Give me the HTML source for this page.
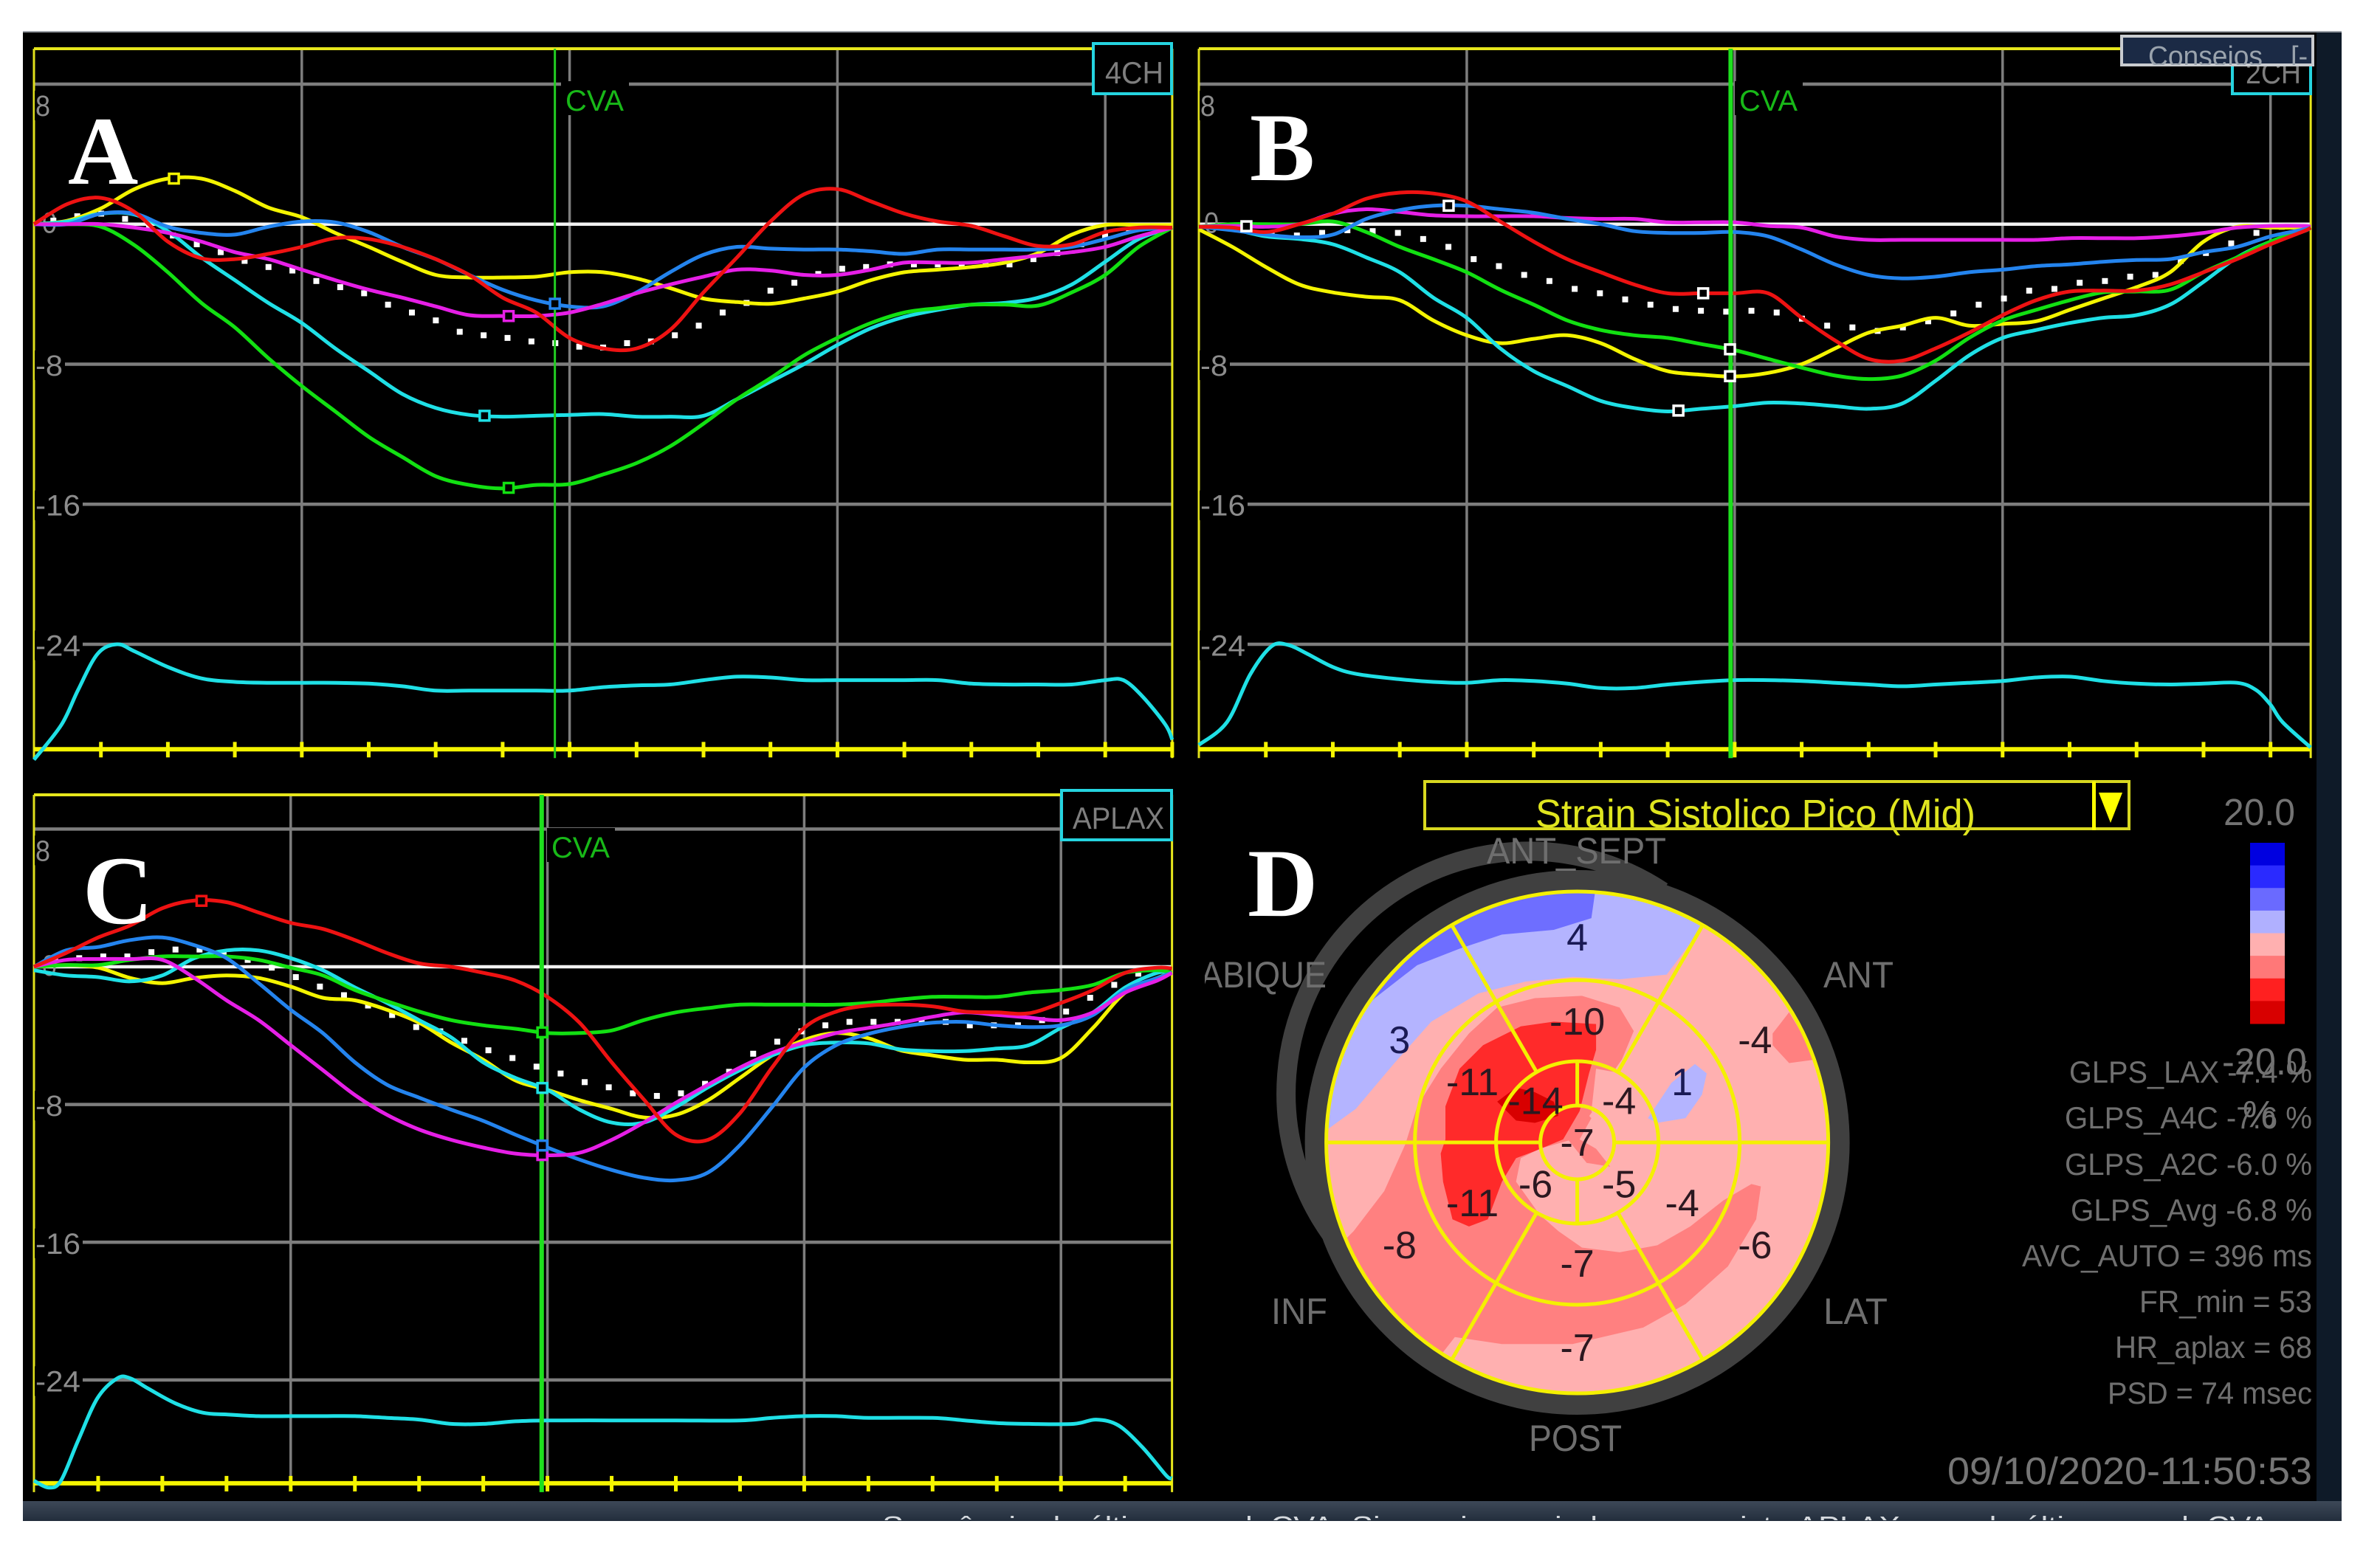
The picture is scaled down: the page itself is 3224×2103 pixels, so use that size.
<!DOCTYPE html>
<html lang="pt">
<head>
<meta charset="utf-8">
<title>Strain longitudinal</title>
<style>
html,body{margin:0;padding:0;background:#fff;width:3224px;height:2103px;overflow:hidden}
svg{display:block;font-family:"Liberation Sans",sans-serif}
</style>
</head>
<body>
<svg id="root" xmlns="http://www.w3.org/2000/svg" width="3224" height="2103" viewBox="0 0 3224 2103">
  <defs>
    <linearGradient id="footGrad" x1="0" y1="0" x2="0" y2="1"><stop offset="0" stop-color="#3d4958"/><stop offset="1" stop-color="#232e3c"/></linearGradient>
    <clipPath id="footClip"><rect x="31" y="2034" width="3141" height="26"/></clipPath>
    <clipPath id="consClip"><rect x="2875" y="50" width="257" height="38"/></clipPath>
    <clipPath id="abClip"><rect x="1632" y="1280" width="200" height="80"/></clipPath>
    <clipPath id="eyeClip"><circle cx="2136.6" cy="1548" r="340"/></clipPath>
  </defs>

  <rect x="0" y="0" width="3224" height="2103" fill="#ffffff"/>
  <rect x="31" y="42" width="3141" height="3" fill="#9a9fa6"/>
  <rect x="3138" y="44" width="34" height="1990" fill="#0e1a28"/>
  <rect x="31" y="44" width="3107" height="1990" fill="#000000"/>
  <rect x="31" y="2034" width="3141" height="27" fill="url(#footGrad)"/>
  <g clip-path="url(#footClip)">
    <text x="1195" y="2080" font-size="36" fill="#d5d9de" textLength="1880" lengthAdjust="spacingAndGlyphs">Sequência do último quad. CVA. Sincronize a ajuda para a vista APLAX usando último quad. CVA</text>
  </g>

  <g id="charts"></g>

  <g>
    <rect x="2874" y="49" width="259" height="39" fill="#1b2a45" stroke="#c9ccd0" stroke-width="4"/>
    <g clip-path="url(#consClip)">
      <text x="2910" y="89" font-size="38" fill="#9aa3ad" textLength="155" lengthAdjust="spacingAndGlyphs">Conseios</text>
      <text x="3103" y="89" font-size="38" fill="#9aa3ad">[-</text>
    </g>
  </g>

  <!-- D: bullseye -->
  <g>
    <path d="M2252 1208 A328.5 328.5 0 0 0 1802 1671" fill="none" stroke="#404040" stroke-width="26"/>
    <circle cx="2136.6" cy="1548" r="354" fill="none" stroke="#404040" stroke-width="30"/>
    <g clip-path="url(#eyeClip)">
      <g transform="translate(1620 1040) scale(0.63776)">
        <circle cx="810" cy="797" r="540" fill="#ffb0b0"/>
        <path fill="#b4b4ff" d="M250 790 L278 770 L340 725 L420 630 L500 540 L600 480 L700 455 L800 445 L900 450 L1000 440 L1030 400 L1090 320 L810 240 L450 300 L250 600 Z"/>
        <path fill="#6e6eff" d="M350 520 L380 490 L470 420 L560 385 L650 355 L760 345 L840 320 L850 250 L500 280 Z"/>
        <path fill="#ff8080" d="M300 1020 L335 985 L400 900 L445 800 L470 720 L520 640 L580 565 L640 510 L720 490 L820 485 L900 510 L930 560 L905 620 L870 670 L850 720 L800 790 L730 810 L690 830 L680 880 L730 950 L770 985 L820 1020 L900 1030 L980 1015 L1050 975 L1120 920 L1180 885 L1200 890 L1190 960 L1130 1060 L1040 1140 L950 1190 L800 1225 L650 1225 L550 1210 L480 1300 L300 1150 Z"/>
        <path fill="#ff2a2a" d="M530 790 L530 720 L560 640 L610 590 L690 550 L760 540 L850 545 L850 600 L835 650 L815 730 L780 790 L720 815 L680 830 L650 880 L620 960 L580 975 L545 960 L525 880 L520 820 Z"/>
        <path fill="#d80000" d="M640 710 L680 680 L720 690 L760 710 L770 740 L720 755 L680 750 Z"/>
        <path fill="#ffb0b0" d="M850 640 L905 650 L960 700 L975 780 L880 770 L840 730 Z"/>
        <path fill="#ff8080" d="M825 730 L790 790 L830 840 L880 848 L850 810 L815 790 L840 745 Z"/>
        <path fill="#ff8080" d="M1225 565 L1260 520 L1320 620 L1260 628 L1225 590 Z"/>
        <path fill="#b4b4ff" d="M960 745 L1010 670 L1060 630 L1085 650 L1075 695 L1040 745 L980 755 Z"/>
      </g>
    </g>
    <g id="eyeGrid"></g>
    <g id="eyeValues"></g>
  </g>

  <text x="2014" y="1170" font-size="50" fill="#6e6e6e" textLength="243" lengthAdjust="spacingAndGlyphs">ANT_SEPT</text>
  <g clip-path="url(#abClip)"><text x="1626" y="1338" font-size="50" fill="#6e6e6e" textLength="171" lengthAdjust="spacingAndGlyphs">ABIQUE</text></g>
  <text x="2470" y="1338" font-size="50" fill="#6e6e6e" textLength="95" lengthAdjust="spacingAndGlyphs">ANT</text>
  <text x="1722" y="1794" font-size="50" fill="#6e6e6e" textLength="76" lengthAdjust="spacingAndGlyphs">INF</text>
  <text x="2470" y="1794" font-size="50" fill="#6e6e6e" textLength="87" lengthAdjust="spacingAndGlyphs">LAT</text>
  <text x="2071" y="1966" font-size="50" fill="#6e6e6e" textLength="126" lengthAdjust="spacingAndGlyphs">POST</text>

  <g>
    <text x="2080" y="1121" font-size="54" fill="#dfe51f" textLength="596" lengthAdjust="spacingAndGlyphs">Strain Sistolico Pico (Mid)</text>
    <rect x="1930" y="1059" width="954" height="64" fill="none" stroke="#d8d820" stroke-width="4"/>
    <rect x="2834" y="1059" width="5" height="66" fill="#ffff00"/>
    <polygon points="2843,1074 2875,1074 2859,1115" fill="#ffff00"/>
  </g>

  <text x="3012" y="1118" font-size="51" fill="#737373" textLength="97" lengthAdjust="spacingAndGlyphs">20.0</text>
  <g id="colorbar"></g>
  <text x="3010" y="1456" font-size="51" fill="#737373" textLength="115" lengthAdjust="spacingAndGlyphs">-20.0</text>
  <text x="3038" y="1527" font-size="51" fill="#737373">%</text>

  <g font-size="42" fill="#6f6f6f">
    <text x="2803" y="1467" textLength="329" lengthAdjust="spacingAndGlyphs">GLPS_LAX  -7.4 %</text>
    <text x="2797" y="1529" textLength="335" lengthAdjust="spacingAndGlyphs">GLPS_A4C  -7.6 %</text>
    <text x="2797" y="1592" textLength="335" lengthAdjust="spacingAndGlyphs">GLPS_A2C  -6.0 %</text>
    <text x="2805" y="1654" textLength="327" lengthAdjust="spacingAndGlyphs">GLPS_Avg  -6.8 %</text>
    <text x="2739" y="1716" textLength="393" lengthAdjust="spacingAndGlyphs">AVC_AUTO = 396 ms</text>
    <text x="2898" y="1778" textLength="234" lengthAdjust="spacingAndGlyphs">FR_min = 53</text>
    <text x="2865" y="1840" textLength="267" lengthAdjust="spacingAndGlyphs">HR_aplax = 68</text>
    <text x="2855" y="1902" textLength="277" lengthAdjust="spacingAndGlyphs">PSD = 74 msec</text>
  </g>
  <text x="2638" y="2011" font-size="52" fill="#757575" textLength="494" lengthAdjust="spacingAndGlyphs">09/10/2020-11:50:53</text>

  <text x="92" y="249" font-family="'Liberation Serif',serif" font-weight="bold" font-size="132" fill="#ffffff">A</text>
  <text x="1693" y="244" font-family="'Liberation Serif',serif" font-weight="bold" font-size="132" fill="#ffffff">B</text>
  <text x="112" y="1251" font-family="'Liberation Serif',serif" font-weight="bold" font-size="132" fill="#ffffff">C</text>
  <text x="1690" y="1241" font-family="'Liberation Serif',serif" font-weight="bold" font-size="132" fill="#ffffff">D</text>
</svg>

<script>
/* ---------- shared axis values ---------- */
const yGridValues = [8, -8, -16, -24];
const xGridTicks = [4, 8, 12, 16];

/* ---------- panel A: 4CH ---------- */
const aTimes = [0,.5,1,1.5,2,2.5,3,3.5,4,4.5,5,5.5,6,6.5,7,7.5,8,8.5,9,9.5,10,10.5,11,11.5,12,12.5,13,13.5,14,14.5,15,15.5,16,16.5,17];
const aYellow = [0,.2,.9,2,2.6,2.6,1.9,.95,.4,-.5,-1.3,-2.15,-2.9,-3.05,-3.05,-3,-2.75,-2.75,-3.1,-3.65,-4.25,-4.45,-4.55,-4.25,-3.85,-3.2,-2.75,-2.6,-2.45,-2.2,-1.65,-.6,-.05,-.05,-.05];
const aCyan = [0,.15,.6,.55,-.4,-1.9,-3.2,-4.5,-5.65,-7.1,-8.4,-9.7,-10.5,-10.9,-11,-10.95,-10.9,-10.85,-11,-11,-10.95,-10,-9,-8,-6.9,-5.95,-5.3,-4.9,-4.6,-4.5,-4.2,-3.45,-2.15,-.85,-.2];
const aGreen = [0,0,-.15,-1.2,-2.75,-4.5,-5.9,-7.65,-9.25,-10.7,-12.15,-13.3,-14.4,-14.9,-15.1,-14.9,-14.85,-14.3,-13.65,-12.7,-11.4,-10,-8.8,-7.5,-6.5,-5.65,-5.05,-4.8,-4.6,-4.6,-4.65,-3.9,-2.9,-1.3,-.2];
const aBlue = [0,0,.6,.6,-.15,-.5,-.6,-.15,.15,.1,-.45,-1.3,-2,-2.9,-3.75,-4.35,-4.7,-4.7,-3.9,-2.75,-1.75,-1.3,-1.4,-1.45,-1.45,-1.55,-1.7,-1.45,-1.45,-1.45,-1.45,-1.3,-.85,-.35,-.2];
const aMagenta = [0,0,0,-.2,-.5,-1,-1.6,-2,-2.6,-3.2,-3.75,-4.2,-4.7,-5.2,-5.25,-5.25,-5.05,-4.55,-3.95,-3.45,-3,-2.6,-2.65,-2.9,-2.9,-2.6,-2.2,-2.2,-2.2,-2,-1.8,-1.6,-1.3,-.7,-.2];
const aRed = [0,1.15,1.5,.7,-1,-1.95,-2,-1.7,-1.3,-.8,-.85,-1.3,-2,-2.9,-4.2,-5.05,-6.5,-7.1,-7.1,-6.05,-3.9,-1.9,.15,1.7,2,1.3,.6,.15,-.1,-.7,-1.25,-1.15,-.45,-.2,-.2];
const aDots = [.2,.45,.6,.3,-.1,-.65,-1.15,-1.6,-2.1,-2.45,-2.65,-3.25,-3.6,-3.95,-4.6,-5.05,-5.5,-6.15,-6.35,-6.5,-6.7,-6.8,-7,-7.05,-6.8,-6.7,-6.35,-5.8,-5.05,-4.5,-3.8,-3.35,-2.85,-2.55,-2.45,-2.3,-2.3,-2.3,-2.3,-2.3,-2.3,-2,-1.65,-1.15,-.7,-.35];
const aTraceTimes = [0,.41,.66,.95,1.24,1.5,2,2.5,3,3.5,4,4.5,5,5.5,6,6.5,7,7.5,8,8.5,9,9.5,10,10.5,11,11.5,12,12.5,13,13.5,14,14.5,15,15.5,16,16.27,16.56,16.9,17];
const aTrace = [-30.6,-28.6,-26.6,-24.55,-24,-24.4,-25.3,-25.95,-26.15,-26.2,-26.2,-26.2,-26.25,-26.4,-26.65,-26.65,-26.65,-26.65,-26.65,-26.45,-26.35,-26.3,-26.05,-25.85,-25.9,-26.05,-26.05,-26.05,-26.05,-26.05,-26.25,-26.3,-26.3,-26.3,-26.05,-26.05,-27,-28.6,-29.45];
const aMarkerTimes = {yellow:2.09, cyan:6.73, green:7.09, magenta:7.09, blue:7.78};

/* ---------- panel B: 2CH ---------- */
const bTimes = [0,.5,1,1.5,2,2.5,3,3.5,4,4.5,5,5.5,6,6.5,7,7.5,8,8.5,9,9.5,10,10.5,11,11.5,12,12.5,13,13.5,14,14.5,15,15.5,16,16.5,16.6];
const bYellow = [-.3,-1.3,-2.45,-3.45,-3.9,-4.15,-4.35,-5.5,-6.35,-6.8,-6.55,-6.35,-6.8,-7.7,-8.4,-8.6,-8.7,-8.5,-8,-7.1,-6.2,-5.8,-5.35,-5.8,-5.7,-5.55,-4.9,-4.25,-3.6,-2.75,-1,-.15,-.2,-.2,-.2];
const bCyan = [-.15,-.3,-.7,-.85,-1.15,-1.9,-2.75,-4.2,-5.35,-7.1,-8.4,-9.25,-10.1,-10.5,-10.7,-10.55,-10.4,-10.2,-10.25,-10.4,-10.55,-10.25,-8.95,-7.5,-6.5,-6.05,-5.65,-5.35,-5.2,-4.6,-3.3,-1.9,-1,-.4,-.2];
const bGreen = [-.15,0,0,0,.15,-.45,-1.3,-2,-2.75,-3.75,-4.6,-5.5,-6.05,-6.35,-6.5,-6.85,-7.2,-7.7,-8.2,-8.65,-8.85,-8.65,-7.8,-6.5,-5.5,-4.9,-4.35,-3.9,-3.85,-3.75,-2.75,-1.9,-1,-.3,-.2];
const bMagenta = [-.15,-.1,-.15,0,.6,.85,.7,.5,.45,.45,.45,.35,.3,.3,.1,.1,.1,-.1,-.2,-.7,-.9,-.9,-.9,-.9,-.9,-.9,-.8,-.8,-.8,-.7,-.5,-.2,-.1,-.1,-.15];
const bBlue = [-.15,-.35,-.6,-.75,-.6,.3,.8,1.05,1.05,.85,.65,.3,0,-.4,-.5,-.5,-.45,-.7,-1.45,-2.3,-2.9,-3.1,-3,-2.75,-2.6,-2.4,-2.3,-2.15,-2.05,-2,-1.6,-1.3,-.7,-.3,-.2];
const bRed = [-.15,-.2,-.45,0,.6,1.45,1.8,1.75,1.3,.15,-1,-2,-2.75,-3.45,-3.95,-3.95,-3.95,-3.95,-5.35,-6.65,-7.7,-7.8,-7.1,-6.2,-5.2,-4.35,-3.85,-3.8,-3.8,-3.45,-2.75,-2,-1.15,-.4,-.2];
const bDots = [-.3,-.65,-.65,-.5,-.35,-.4,-.5,-.85,-1.3,-2,-2.4,-2.9,-3.25,-3.7,-3.95,-4.3,-4.6,-4.85,-4.95,-5,-4.95,-5.05,-5.4,-5.8,-5.9,-6.1,-5.9,-5.55,-5.1,-4.6,-4.25,-3.8,-3.7,-3.35,-3.25,-3,-2.9,-2.1,-1.65,-1.1,-.5,-.15];
const bTraceTimes = [0,.42,.77,1.09,1.34,1.62,2,2.36,3,3.5,4,4.5,5,5.5,6,6.5,7,7.5,8,8.5,9,9.5,10,10.5,11,11.5,12,12.5,13,13.5,14,14.5,15,15.5,15.78,16,16.18,16.6];
const bTrace = [-29.75,-28.45,-25.7,-24.1,-24.05,-24.55,-25.3,-25.7,-26,-26.15,-26.2,-26.05,-26.1,-26.25,-26.5,-26.5,-26.3,-26.15,-26.05,-26.05,-26.1,-26.2,-26.3,-26.4,-26.3,-26.2,-26.1,-25.9,-25.85,-26.1,-26.25,-26.3,-26.25,-26.2,-26.6,-27.45,-28.45,-29.9];
const bMarkerTimes = {magenta:.71, blue:3.73, red:7.53, green:7.93, yellow:7.93, cyan:7.16};

/* ---------- panel C: APLAX ---------- */
const cTimes = [0,.5,1,1.5,2,2.5,3,3.5,4,4.5,5,5.5,6,6.5,7,7.5,8,8.5,9,9.5,10,10.5,11,11.5,12,12.5,13,13.5,14,14.5,15,15.5,16,16.5,17,17.5,17.73];
const cYellow = [0,.1,-.05,-.65,-.95,-.65,-.5,-.65,-1.15,-1.8,-1.95,-2.5,-3.25,-4.4,-5.4,-6.6,-7.15,-7.75,-8.25,-8.75,-8.6,-7.75,-6.45,-5.15,-4.25,-3.85,-4.15,-4.85,-5.15,-5.4,-5.4,-5.55,-5.3,-3.55,-1.5,-.65,-.35];
const cCyan = [-.2,-.5,-.6,-.85,-.5,.5,.95,.95,.5,-.2,-1.2,-2.1,-3.1,-4.1,-5.55,-6.45,-7.15,-8.3,-9.05,-9.05,-8.15,-7,-6,-5.15,-4.55,-4.4,-4.45,-4.8,-4.9,-4.9,-4.75,-4.55,-3.55,-2.65,-1.2,-.35,-.35];
const cGreen = [0,.1,.1,.4,.6,.6,.6,.4,-.05,-.5,-1.35,-2,-2.6,-3.1,-3.4,-3.6,-3.85,-3.85,-3.7,-3.1,-2.65,-2.4,-2.2,-2.2,-2.2,-2.2,-2.1,-1.9,-1.75,-1.75,-1.75,-1.5,-1.35,-1.05,-.35,-.2,-.35];
const cBlue = [0,.95,1.15,1.55,1.7,1.25,.5,-.95,-2.5,-3.85,-5.55,-6.85,-7.6,-8.3,-8.95,-9.75,-10.5,-11.2,-11.8,-12.25,-12.4,-11.95,-10.35,-8.15,-5.85,-4.55,-3.9,-3.5,-3.25,-3.2,-3.4,-3.5,-3.4,-2.8,-1.35,-.65,-.35];
const cMagenta = [0,.4,.45,.45,.4,-.65,-1.95,-3.1,-4.55,-6,-7.45,-8.6,-9.45,-10.05,-10.5,-10.85,-10.95,-10.8,-10.05,-9.05,-7.9,-6.85,-5.85,-5,-4.4,-3.85,-3.55,-3.25,-2.9,-2.65,-2.8,-2.95,-3.1,-2.65,-1.5,-.8,-.35];
const cRed = [0,.8,1.7,2.4,3.4,3.85,3.75,3.15,2.55,2.2,1.55,.8,.2,0,-.35,-.8,-1.75,-3.25,-5.55,-7.7,-9.75,-10.05,-8.5,-5.85,-3.55,-2.6,-2.25,-2.2,-2.3,-2.6,-2.65,-2.7,-2.1,-1.35,-.35,-.05,-.1];
const cDots = [.4,.5,.6,.6,.85,1,1,.8,.4,-.05,-.6,-1.15,-1.65,-2.25,-2.8,-3.5,-3.75,-4.3,-4.85,-5.3,-5.8,-6.2,-6.7,-7,-7.35,-7.5,-7.35,-6.8,-6.1,-5.05,-4.35,-3.75,-3.4,-3.2,-3.2,-3.2,-3.2,-3.2,-3.4,-3.4,-3.4,-3.1,-2.6,-1.8,-1.05,-.4];
const cTraceTimes = [0,.23,.42,.69,.99,1.3,1.5,1.78,2.2,2.63,3,3.5,4,4.5,5,5.5,6,6.5,7,7.5,8,9,10,11,11.5,12,12.5,13,14,14.5,15,15.5,16.2,16.55,16.9,17.28,17.64,17.73];
const cTrace = [-29.85,-30.25,-29.85,-27.5,-25.05,-23.9,-23.9,-24.5,-25.35,-25.9,-26,-26.1,-26.1,-26.1,-26.1,-26.2,-26.3,-26.55,-26.55,-26.4,-26.35,-26.35,-26.35,-26.35,-26.2,-26.1,-26.1,-26.2,-26.2,-26.35,-26.5,-26.55,-26.55,-26.3,-26.65,-27.95,-29.55,-29.7];
const cMarkerTimes = {red:2.61, green:7.92, cyan:7.92, magenta:7.92, blue:7.92};

/* ---------- bullseye values ---------- */
const outerRingAngles = [90,30,-30,-90,-150,150];
const apicalRingAngles = [45,-45,-135,135];
const basalValues = [4,-4,-6,-7,-8,3];
const midValues = [-10,1,-4,-7,-11,-11];
const apicalValues = [-4,-5,-6,-14];
const apexValues = [-7];
const colorbarColors = ['#0000e0','#2a2aff','#6a6aff','#b0b0ff','#ffb0b0','#ff7878','#ff2020','#d80000'];

const NS = 'http://www.w3.org/2000/svg';
const seriesColors = {yellow:'#f4f400',cyan:'#1fe0e6',green:'#12e012',blue:'#2484ee',magenta:'#e61fe6',red:'#ee1212'};

function mk(parent, tag, name, attrs){
  const el = document.createElementNS(NS, tag);
  
  
  for (const k in attrs) el.setAttribute(k, attrs[k]);
  parent.appendChild(el);
  return el;
}

function smoothPath(pts){
  let d = 'M' + pts[0][0].toFixed(1) + ' ' + pts[0][1].toFixed(1);
  for (let i = 0; i < pts.length - 1; i++){
    const p0 = pts[Math.max(i - 1, 0)], p1 = pts[i], p2 = pts[i + 1], p3 = pts[Math.min(i + 2, pts.length - 1)];
    const c1x = p1[0] + (p2[0] - p0[0]) / 6, c1y = p1[1] + (p2[1] - p0[1]) / 6;
    const c2x = p2[0] - (p3[0] - p1[0]) / 6, c2y = p2[1] - (p3[1] - p1[1]) / 6;
    d += 'C' + c1x.toFixed(1) + ' ' + c1y.toFixed(1) + ' ' + c2x.toFixed(1) + ' ' + c2y.toFixed(1) + ' ' + p2[0].toFixed(1) + ' ' + p2[1].toFixed(1);
  }
  return d;
}

function interp(ts, vs, t){
  for (let i = 0; i < ts.length - 1; i++){
    if (t >= ts[i] && t <= ts[i + 1]) return vs[i] + (vs[i + 1] - vs[i]) * (t - ts[i]) / (ts[i + 1] - ts[i]);
  }
  return vs[vs.length - 1];
}

const chartPanels = [
  {id:'a', x0:46, dx:90.7, tMax:17, y0:303.7, unit:23.72, top:66, cva:7.78, cvaW:3, tag:'4CH', tagBox:[1481,59,106,68], tagText:[1497,113,79], zeroX:11,
   times:aTimes, series:{yellow:aYellow,cyan:aCyan,green:aGreen,blue:aBlue,magenta:aMagenta,red:aRed}, dots:aDots, dotStart:.29, dotStep:.357,
   traceT:aTraceTimes, trace:aTrace, markers:aMarkerTimes, markerWhite:false, cvaLabel:[766,150]},
  {id:'b', x0:1624, dx:90.73, tMax:16.6, y0:303.7, unit:23.72, top:66, cva:7.94, cvaW:6, tag:'2CH', tagBox:[3024,59,106,68], tagText:[3042,113,75], zeroX:7,
   times:bTimes, series:{yellow:bYellow,cyan:bCyan,green:bGreen,magenta:bMagenta,blue:bBlue,red:bRed}, dots:bDots, dotStart:.71, dotStep:.377,
   traceT:bTraceTimes, trace:bTrace, markers:bMarkerTimes, markerWhite:true, cvaLabel:[2356,150]},
  {id:'c', x0:46, dx:86.95, tMax:17.73, y0:1310, unit:23.33, top:1077, cva:7.91, cvaW:6, tag:'APLAX', tagBox:[1438,1071,149,67], tagText:[1453,1123,124], zeroX:11,
   times:cTimes, series:{yellow:cYellow,cyan:cCyan,green:cGreen,blue:cBlue,magenta:cMagenta,red:cRed}, dots:cDots, dotStart:.33, dotStep:.375,
   traceT:cTraceTimes, trace:cTrace, markers:cMarkerTimes, markerWhite:false, cvaLabel:[747,1162]}
];

const charts = document.getElementById('charts');
chartPanels.forEach(function(p){
  const x = function(t){ return p.x0 + t * p.dx; };
  const y = function(v){ return p.y0 - v * p.unit; };
  const right = x(p.tMax), axisY = y(-30);
  const g = mk(charts, 'g', 'panel-' + p.id, {});

  xGridTicks.forEach(function(t){
    mk(g, 'line', 'x-grid-line', {x1:x(t), x2:x(t), y1:p.top, y2:axisY, stroke:'#7d7d7d', 'stroke-width':3.5});
  });
  yGridValues.forEach(function(v){
    mk(g, 'line', 'y-grid-line', {x1:p.x0, x2:right, y1:y(v), y2:y(v), stroke:'#7d7d7d', 'stroke-width':4.5});
  });
  mk(g, 'line', 'zero-line', {x1:p.x0, x2:right, y1:y(0), y2:y(0), stroke:'#f2f2f2', 'stroke-width':4.5});

  /* frame */
  mk(g, 'line', 'frame-top', {x1:p.x0, x2:right, y1:p.top, y2:p.top, stroke:'#e6e61c', 'stroke-width':4});
  mk(g, 'line', 'frame-left', {x1:p.x0, x2:p.x0, y1:p.top, y2:axisY + 12, stroke:'#e0e01c', 'stroke-width':3});
  mk(g, 'line', 'frame-right', {x1:right, x2:right, y1:p.top, y2:axisY + 12, stroke:'#e6e61c', 'stroke-width':3});

  /* y tick labels */
  yGridValues.concat([0]).forEach(function(v){
    const str = String(v);
    const w = str.length === 1 ? 20 : (str.length === 2 ? 37 : 61);
    const lx = p.x0 + (v === 0 ? p.zeroX : 2);
    const base = v === 8 ? y(v) + 43 : (v === 0 ? y(v) + 12 : y(v) + 15.5);
    if (v !== 0) mk(g, 'rect', 'tick-label-mask', {x:lx - 1, y:base - 34, width:w + 4, height:40, fill:'#000'});
    const t = mk(g, 'text', 'y-tick-label', {x:lx, y:base, 'font-size':40, fill:'#8c8c8c', textLength:w, lengthAdjust:'spacingAndGlyphs'});
    t.textContent = str;
  });

  /* axis */
  mk(g, 'line', 'time-axis', {x1:p.x0, x2:right, y1:axisY, y2:axisY, stroke:'#f4f400', 'stroke-width':6});
  for (let t = 1; t <= Math.floor(p.tMax); t++){
    mk(g, 'line', 'time-tick', {x1:x(t), x2:x(t), y1:axisY - 10, y2:axisY + 11, stroke:'#f4f400', 'stroke-width':5});
  }

  /* dotted average */
  p.dots.forEach(function(v, i){
    const t = p.dotStart + i * p.dotStep;
    mk(g, 'rect', 'average-dot', {x:x(t) - 4, y:y(v) - 4, width:8, height:8, fill:'#ffffff'});
  });

  /* series */
  for (const key in p.series){
    const vals = p.series[key];
    const pts = vals.map(function(v, i){ return [x(p.times[i]), y(v)]; });
    mk(g, 'path', 'curve-' + key, {d:smoothPath(pts), fill:'none', stroke:seriesColors[key], 'stroke-width':5, 'stroke-linejoin':'round'});
  }

  /* cyclic trace */
  const tracePts = p.trace.map(function(v, i){ return [x(p.traceT[i]), y(v)]; });
  mk(g, 'path', 'volume-trace', {d:smoothPath(tracePts), fill:'none', stroke:'#1fe0e6', 'stroke-width':5});

  /* CVA */
  mk(g, 'line', 'cva-line', {x1:x(p.cva), x2:x(p.cva), y1:p.top, y2:axisY + 12, stroke:p.id === 'a' ? '#22cc22' : '#1ee01e', 'stroke-width':p.cvaW});
  mk(g, 'rect', 'cva-label-mask', {x:p.cvaLabel[0] - 6, y:p.cvaLabel[1] - 40, width:92, height:46, fill:'#000'});
  const cv = mk(g, 'text', 'cva-label', {x:p.cvaLabel[0], y:p.cvaLabel[1], 'font-size':40, fill:'#18b818', textLength:79, lengthAdjust:'spacingAndGlyphs'});
  cv.textContent = 'CVA';

  /* markers */
  for (const key in p.markers){
    const t = p.markers[key];
    const v = interp(p.times, p.series[key], t);
    mk(g, 'rect', 'peak-marker-' + key, {x:x(t) - 6.5, y:y(v) - 6.5, width:13, height:13, fill:'#000', stroke:p.markerWhite ? '#ffffff' : seriesColors[key], 'stroke-width':3.5});
  }

  /* view tag */
  const tg = mk(g, 'g', 'view-tag', {});
  mk(tg, 'rect', 'view-tag-box', {x:p.tagBox[0], y:p.tagBox[1], width:p.tagBox[2], height:p.tagBox[3], fill:'#000', stroke:'#25d4e0', 'stroke-width':4});
  const tt = mk(tg, 'text', 'view-tag-label', {x:p.tagText[0], y:p.tagText[1], 'font-size':42, fill:'#7e7e7e', textLength:p.tagText[2], lengthAdjust:'spacingAndGlyphs'});
  tt.textContent = p.tag;
});

/* ---------- bullseye grid + numbers ---------- */
const eyeCx = 2136.6, eyeCy = 1548;
const ringRadii = [340, 220, 110, 50];
const eyeGrid = document.getElementById('eyeGrid');
ringRadii.forEach(function(r){
  mk(eyeGrid, 'circle', 'bullseye-ring', {cx:eyeCx, cy:eyeCy, r:r, fill:'none', stroke:'#f4f000', 'stroke-width':5});
});
function polar(r, deg){
  const a = deg * Math.PI / 180;
  return [eyeCx + r * Math.cos(a), eyeCy - r * Math.sin(a)];
}
[60,120,240,300].forEach(function(a){
  const p1 = polar(110, a), p2 = polar(340, a);
  mk(eyeGrid, 'line', 'bullseye-spoke', {x1:p1[0], y1:p1[1], x2:p2[0], y2:p2[1], stroke:'#f4f000', 'stroke-width':5});
});
[0,180].forEach(function(a){
  const p1 = polar(50, a), p2 = polar(340, a);
  mk(eyeGrid, 'line', 'bullseye-spoke', {x1:p1[0], y1:p1[1], x2:p2[0], y2:p2[1], stroke:'#f4f000', 'stroke-width':5});
});
[90,270].forEach(function(a){
  const p1 = polar(50, a), p2 = polar(110, a);
  mk(eyeGrid, 'line', 'bullseye-spoke', {x1:p1[0], y1:p1[1], x2:p2[0], y2:p2[1], stroke:'#f4f000', 'stroke-width':5});
});

const eyeValues = document.getElementById('eyeValues');
function placeValues(vals, angles, radius){
  vals.forEach(function(v, i){
    const pos = polar(radius, angles[i]);
    const t = mk(eyeValues, 'text', 'segment-value', {x:pos[0], y:pos[1] + 18, 'font-size':52, 'text-anchor':'middle', fill:v > 0 ? '#1a1a55' : '#2c1820'});
    t.textContent = String(v);
  });
}
placeValues(basalValues, outerRingAngles, 278);
placeValues(midValues, outerRingAngles, 164);
placeValues(apicalValues, apicalRingAngles, 80);
placeValues(apexValues, [0], 0);

/* ---------- colour bar ---------- */
const colorbar = document.getElementById('colorbar');
colorbarColors.forEach(function(c, i){
  mk(colorbar, 'rect', 'colorbar-step', {x:3048, y:1142 + i * 245 / colorbarColors.length, width:47, height:245 / colorbarColors.length + .5, fill:c});
});
</script>
</body>
</html>
